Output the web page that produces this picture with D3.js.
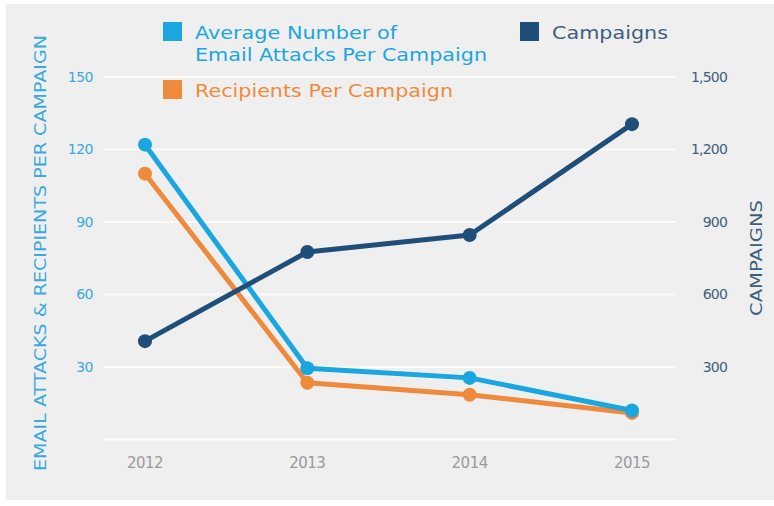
<!DOCTYPE html>
<html>
<head>
<meta charset="utf-8">
<script src="https://cdn.jsdelivr.net/npm/d3@7"></script>
<style>
  html, body { margin: 0; padding: 0; background: #fff; }
  svg { display: block; }
  text { font-family: "DejaVu Sans", sans-serif; }
</style>
</head>
<body>
<svg id="chart" width="774" height="506"></svg>
<script>
// data
var years = ["2012", "2013", "2014", "2015"];
var attacksPerCampaign = [122, 29.5, 25.5, 12];
var recipientsPerCampaign = [110, 23.5, 18.5, 11];
var campaigns = [407, 776, 846, 1305];
var leftTicks = [0, 30, 60, 90, 120, 150];
var rightTicks = [300, 600, 900, 1200, 1500];

var svg = d3.select("#chart");

// panel background
svg.append("rect")
    .attr("x", 6).attr("y", 4)
    .attr("width", 768).attr("height", 496)
    .attr("fill", "#efefef");

var x = d3.scalePoint().domain(years).range([145, 632]);
var yLeft = d3.scaleLinear().domain([0, 150]).range([439.5, 77]);
var yRight = d3.scaleLinear().domain([0, 1500]).range([439.5, 77]);

// gridlines
svg.append("g")
    .selectAll("line")
    .data(leftTicks)
    .join("line")
    .attr("x1", 104).attr("x2", 676)
    .attr("y1", function (d) { return yLeft(d); })
    .attr("y2", function (d) { return yLeft(d); })
    .attr("stroke", "#fbfbfb")
    .attr("stroke-width", 2);

// left tick labels
svg.append("g")
    .selectAll("text")
    .data(leftTicks.filter(function (d) { return d > 0; }))
    .join("text")
    .attr("x", 93)
    .attr("y", function (d) { return yLeft(d); })
    .attr("dy", "0.35em")
    .attr("text-anchor", "end")
    .attr("font-size", 14)
    .attr("letter-spacing", -0.5)
    .attr("fill", "#3aa9dd")
    .text(function (d) { return d; });

// right tick labels
svg.append("g")
    .selectAll("text")
    .data(rightTicks)
    .join("text")
    .attr("x", 727)
    .attr("y", function (d) { return yRight(d); })
    .attr("dy", "0.35em")
    .attr("text-anchor", "end")
    .attr("font-size", 14)
    .attr("letter-spacing", -0.8)
    .attr("fill", "#3d5f7c")
    .text(d3.format(","));

// x labels
svg.append("g")
    .selectAll("text")
    .data(years)
    .join("text")
    .attr("x", function (d) { return x(d); })
    .attr("y", 463)
    .attr("dy", "0.35em")
    .attr("text-anchor", "middle")
    .attr("font-size", 15)
    .attr("letter-spacing", -0.5)
    .attr("fill", "#9a9a9a")
    .text(function (d) { return d; });

// axis titles
svg.append("text")
    .attr("transform", "translate(46,253) rotate(-90)")
    .attr("text-anchor", "middle")
    .attr("font-size", 15)
    .attr("fill", "#3aa9dd")
    .attr("textLength", 436)
    .attr("lengthAdjust", "spacingAndGlyphs")
    .text("EMAIL ATTACKS & RECIPIENTS PER CAMPAIGN");

svg.append("text")
    .attr("transform", "translate(762,258) rotate(-90)")
    .attr("text-anchor", "middle")
    .attr("font-size", 15)
    .attr("fill", "#3d5f7c")
    .attr("textLength", 116)
    .attr("lengthAdjust", "spacingAndGlyphs")
    .text("CAMPAIGNS");

// series
var series = [
    { values: recipientsPerCampaign, scale: yLeft, color: "#ef8a3c" },
    { values: attacksPerCampaign, scale: yLeft, color: "#1aa6df" },
    { values: campaigns, scale: yRight, color: "#1f4f78" }
];

series.forEach(function (s) {
    var line = d3.line()
        .x(function (d, i) { return x(years[i]); })
        .y(function (d) { return s.scale(d); });

    var g = svg.append("g");
    g.append("path")
        .attr("fill", "none")
        .attr("stroke", s.color)
        .attr("stroke-width", 5)
        .attr("stroke-linejoin", "round")
        .attr("d", line(s.values));

    g.selectAll("circle")
        .data(s.values)
        .join("circle")
        .attr("cx", function (d, i) { return x(years[i]); })
        .attr("cy", function (d) { return s.scale(d); })
        .attr("r", 7)
        .attr("fill", s.color);
});

// legend
var legend = [
    { label: ["Average Number of", "Email Attacks Per Campaign"], color: "#1aa6df", text: "#1aa6df", x: 163, y: 22, widths: [202, 292] },
    { label: ["Recipients Per Campaign"], color: "#ef8a3c", text: "#ef8a3c", x: 163, y: 80, widths: [258] },
    { label: ["Campaigns"], color: "#1f4f78", text: "#3d5f7c", x: 520, y: 22, widths: [116] }
];

legend.forEach(function (l) {
    svg.append("rect")
        .attr("x", l.x).attr("y", l.y)
        .attr("width", 19).attr("height", 19)
        .attr("fill", l.color);
    l.label.forEach(function (t, i) {
        svg.append("text")
            .attr("x", l.x + 32)
            .attr("y", l.y + 17 + i * 22)
            .attr("font-size", 18)
            .attr("fill", l.text)
            .attr("textLength", l.widths[i])
            .attr("lengthAdjust", "spacingAndGlyphs")
            .text(t);
    });
});
</script>
</body>
</html>
